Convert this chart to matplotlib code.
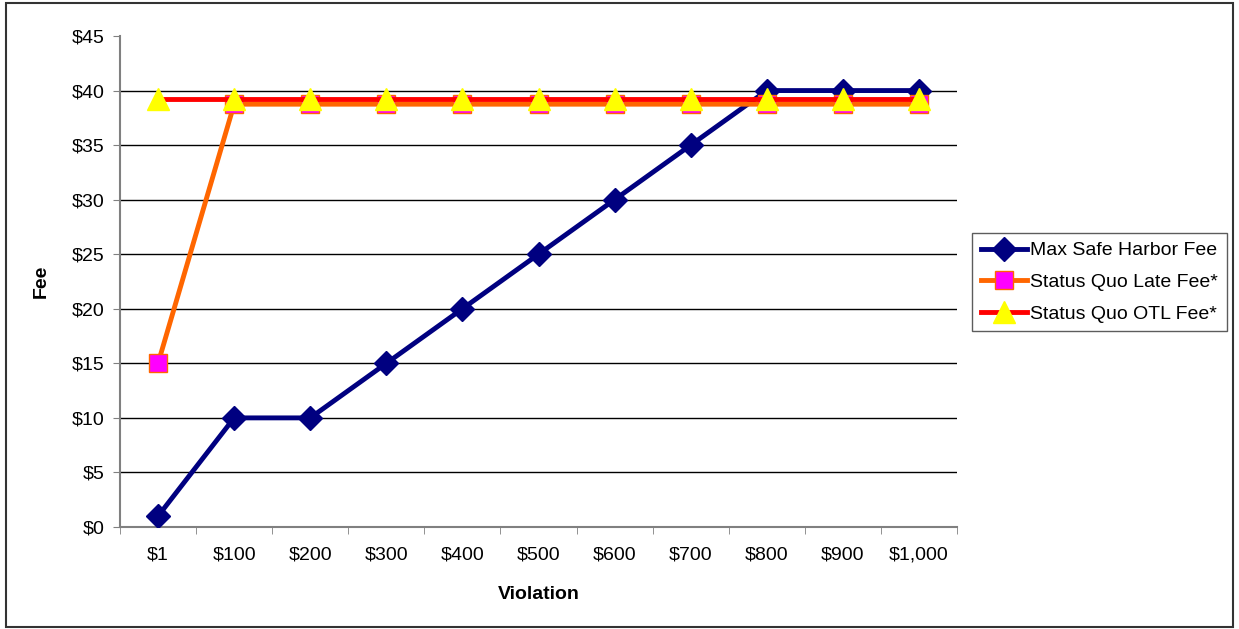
import matplotlib.pyplot as plt
import numpy as np
from matplotlib.patches import Rectangle

plt.rcParams["font.family"] = ["Liberation Sans", "DejaVu Sans"]

violations = ["$1", "$100", "$200", "$300", "$400", "$500", "$600", "$700", "$800", "$900", "$1,000"]
max_safe_harbor = [1, 10, 10, 15, 20, 25, 30, 35, 40, 40, 40]
late_fee = [15, 38.75, 38.75, 38.75, 38.75, 38.75, 38.75, 38.75, 38.75, 38.75, 38.75]
otl_fee = [39.25] * 11
y_ticks = [0, 5, 10, 15, 20, 25, 30, 35, 40, 45]

FS = 14

fig = plt.figure(figsize=(12.39, 6.29), dpi=100)
ax = fig.add_axes([120 / 1239, 1 - 527 / 629, 837 / 1239, 491 / 629])

# frame around whole chart
fig.patches.append(Rectangle((6 / 1239, 2 / 629), 1227 / 1239, 624 / 629,
                             transform=fig.transFigure, fill=False,
                             edgecolor="#333333", linewidth=1.5))

x = np.arange(len(violations))

ax.plot(x, max_safe_harbor, color="#000080", lw=3.5, marker="D", markersize=12,
        label="Max Safe Harbor Fee", zorder=3)
ax.plot(x, late_fee, color="#FF6600", lw=3.5, marker="s", markersize=13,
        markerfacecolor="#FF00FF", markeredgecolor="#FF6600", markeredgewidth=1,
        label="Status Quo Late Fee*", zorder=4)
ax.plot(x, otl_fee, color="#FF0000", lw=3.5, marker="^", markersize=16,
        markerfacecolor="#FFFF00", markeredgecolor="#FFFF00",
        label="Status Quo OTL Fee*", zorder=5)

ax.set_xlim(-0.5, len(violations) - 0.5)
ax.set_ylim(0, 45)
ax.set_yticks(y_ticks)
ax.set_yticklabels([f"${v}" for v in y_ticks])
ax.set_xticks(x)
ax.set_xticklabels(violations)
ax.set_xticks(np.arange(len(violations) + 1) - 0.5, minor=True)

for v in y_ticks[1:-1]:
    ax.axhline(v, color="black", lw=1, zorder=1)

for s in ["top", "right"]:
    ax.spines[s].set_visible(False)
ax.spines["left"].set_color("#808080")
ax.spines["bottom"].set_color("#808080")
ax.spines["left"].set_linewidth(1.5)
ax.spines["bottom"].set_linewidth(1.5)

ax.tick_params(axis="y", which="major", length=5, color="#808080", labelsize=FS, pad=6)
ax.tick_params(axis="x", which="major", length=0, labelsize=FS, pad=14)
ax.tick_params(axis="x", which="minor", length=5, color="#808080")

ax.set_xlabel("Violation", fontsize=FS, fontweight="bold", labelpad=16)
ax.set_ylabel("Fee", fontsize=FS, fontweight="bold", labelpad=16)

leg = fig.legend(loc="upper left", bbox_to_anchor=(972 / 1239, 1 - 233 / 629),
                 frameon=True, fancybox=False, edgecolor="#333333", fontsize=FS,
                 handlelength=2.4, handletextpad=0.15, borderpad=0.45, labelspacing=0.72,
                 borderaxespad=0)
leg.get_frame().set_linewidth(1)

fig.savefig("out.png", dpi=100)
